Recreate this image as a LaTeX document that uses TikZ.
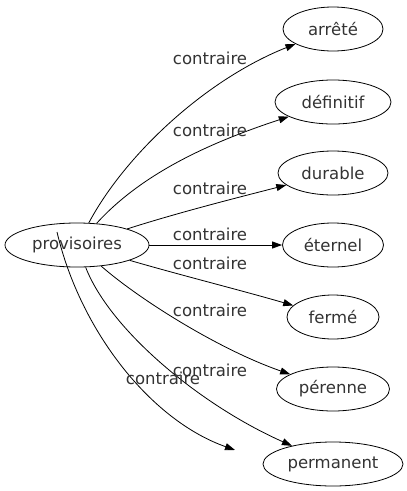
\documentclass[tikz,border=0pt]{standalone}
\usepackage{fontspec}
\setmainfont{DejaVu Sans}
\usetikzlibrary{arrows.meta,shapes.geometric}
\begin{document}
\begin{tikzpicture}[x=1pt,y=-1pt,
  word/.style={ellipse,draw,line width=0.8pt,minimum height=44pt,inner sep=0pt,
    font=\fontsize{16.5}{18}\selectfont,text=black!80},
  rel/.style={line width=0.8pt,-{Triangle[length=10pt,width=7pt]}},
  lbl/.style={font=\fontsize{16.5}{18}\selectfont,text=black!80,inner sep=0pt}]
\useasboundingbox (0,0) rectangle (407,491);
\node[word,minimum width=144pt] (prov) at (77,245) {provisoires};
\node[word,minimum width=100pt] (arrete) at (333,29) {arrêté};
\node[word,minimum width=116pt] (definitif) at (333,102) {définitif};
\node[word,minimum width=110pt] (durable) at (333,173) {durable};
\node[word,minimum width=101pt] (eternel) at (333,245) {éternel};
\node[word,minimum width=92pt] (ferme) at (333,317) {fermé};
\node[word,minimum width=113pt] (perenne) at (333,389) {pérenne};
\node[word,minimum width=140pt] (permanent) at (333,464) {permanent};
\coordinate (s8) at (57,232);
\coordinate (e8) at (235,450);

\draw[rel] (prov) .. controls (125,155) and (205,80) .. (arrete);
\draw[rel] (prov) .. controls (145,170) and (218,140) .. (definitif);
\draw[rel] (prov) .. controls (180,212) and (240,197) .. (durable);
\draw[rel] (prov) -- (eternel);
\draw[rel] (prov) .. controls (180,275) and (240,290) .. (ferme);
\draw[rel] (prov) .. controls (140,300) and (220,350) .. (perenne);
\draw[rel] (prov) .. controls (110,330) and (200,405) .. (permanent);
\draw[rel] (s8) .. controls (80,330) and (150,420) .. (e8);

\node[lbl] (l1) at (210,58) {contraire};
\node[lbl] (l2) at (210,130) {contraire};
\node[lbl] (l3) at (210,188) {contraire};
\node[lbl] (l4) at (210,234) {contraire};
\node[lbl] (l5) at (210,263) {contraire};
\node[lbl] (l6) at (210,310) {contraire};
\node[lbl] (l7) at (210,370) {contraire};
\node[lbl] (l8) at (163,378) {contraire};
\end{tikzpicture}
\end{document}
